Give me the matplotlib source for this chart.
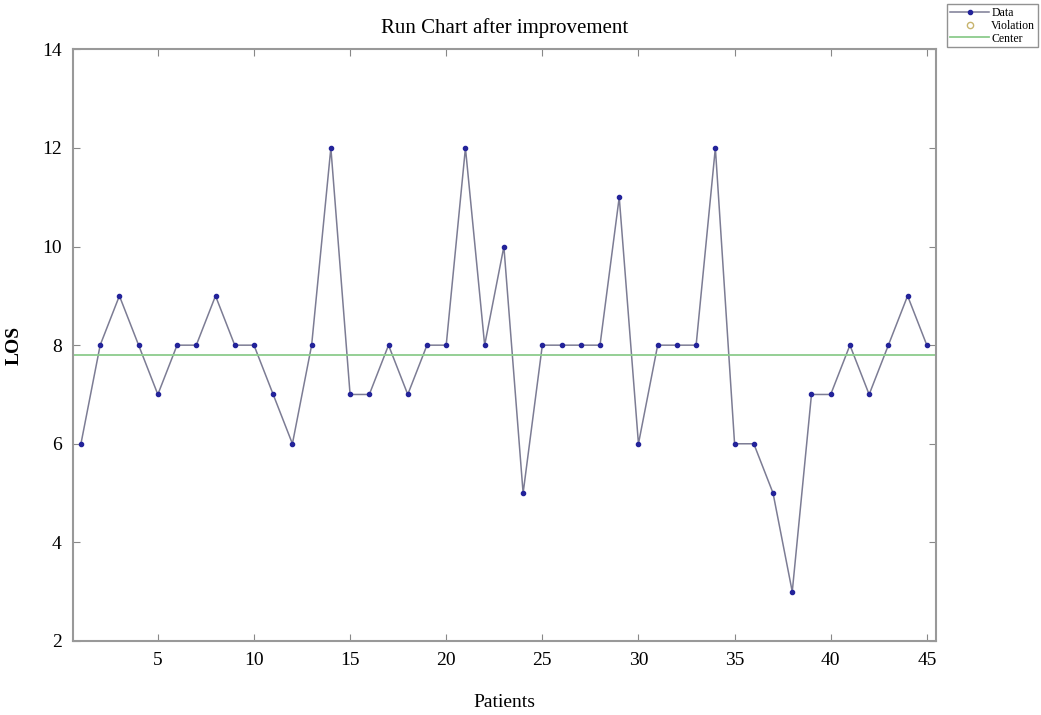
import numpy as np
import matplotlib.pyplot as plt

plt.rcParams['font.family'] = ['Liberation Serif', 'DejaVu Serif']

# LOS per patient after improvement
patients = list(range(1, 46))
los = [6, 8, 9, 8, 7, 8, 8, 9, 8, 8,
       7, 6, 8, 12, 7, 7, 8, 7, 8, 8,
       12, 8, 10, 5, 8, 8, 8, 8, 11, 6,
       8, 8, 8, 12, 6, 6, 5, 3, 7, 7,
       8, 7, 8, 9, 8]
center = np.mean(los)

fig = plt.figure(figsize=(10.41, 7.15), dpi=100)
ax = fig.add_axes([0.070, 0.1035, 0.829, 0.8275])

ax.plot(patients, los, color='#7c7c94', lw=1.1, marker='o', ms=3.0,
        mfc='#23239a', mec='#23239a', label='Data')
ax.plot([], [], ls='none', marker='o', ms=4.5, mfc='none', mec='#c8b46e', label='Violation')
ax.axhline(center, color='#8ccc8c', lw=1.3, label='Center')

ax.set_xlim(0.58, 45.47)
ax.set_ylim(2, 14)
ax.set_xticks([5, 10, 15, 20, 25, 30, 35, 40, 45])
ax.set_yticks([2, 4, 6, 8, 10, 12, 14])
ax.tick_params(direction='in', length=5, width=0.8, color='#888888',
               labelsize=14, top=True, right=True, pad=8)
for s in ax.spines.values():
    s.set_color('#999999')
    s.set_linewidth(1.5)

ax.set_title('Run Chart after improvement', fontsize=15, pad=12)
ax.set_xlabel('Patients', fontsize=14, labelpad=18)
ax.set_ylabel('LOS', fontsize=14, fontweight='bold', labelpad=14)

leg = ax.legend(loc='upper left', bbox_to_anchor=(1.013, 1.076), fontsize=8.5,
                frameon=True, fancybox=False, edgecolor='#777777',
                handlelength=3.3, borderpad=0.25, labelspacing=0.05,
                handletextpad=0.2, borderaxespad=0)
leg.get_frame().set_linewidth(1.0)

fig.savefig('out.png', dpi=100)
